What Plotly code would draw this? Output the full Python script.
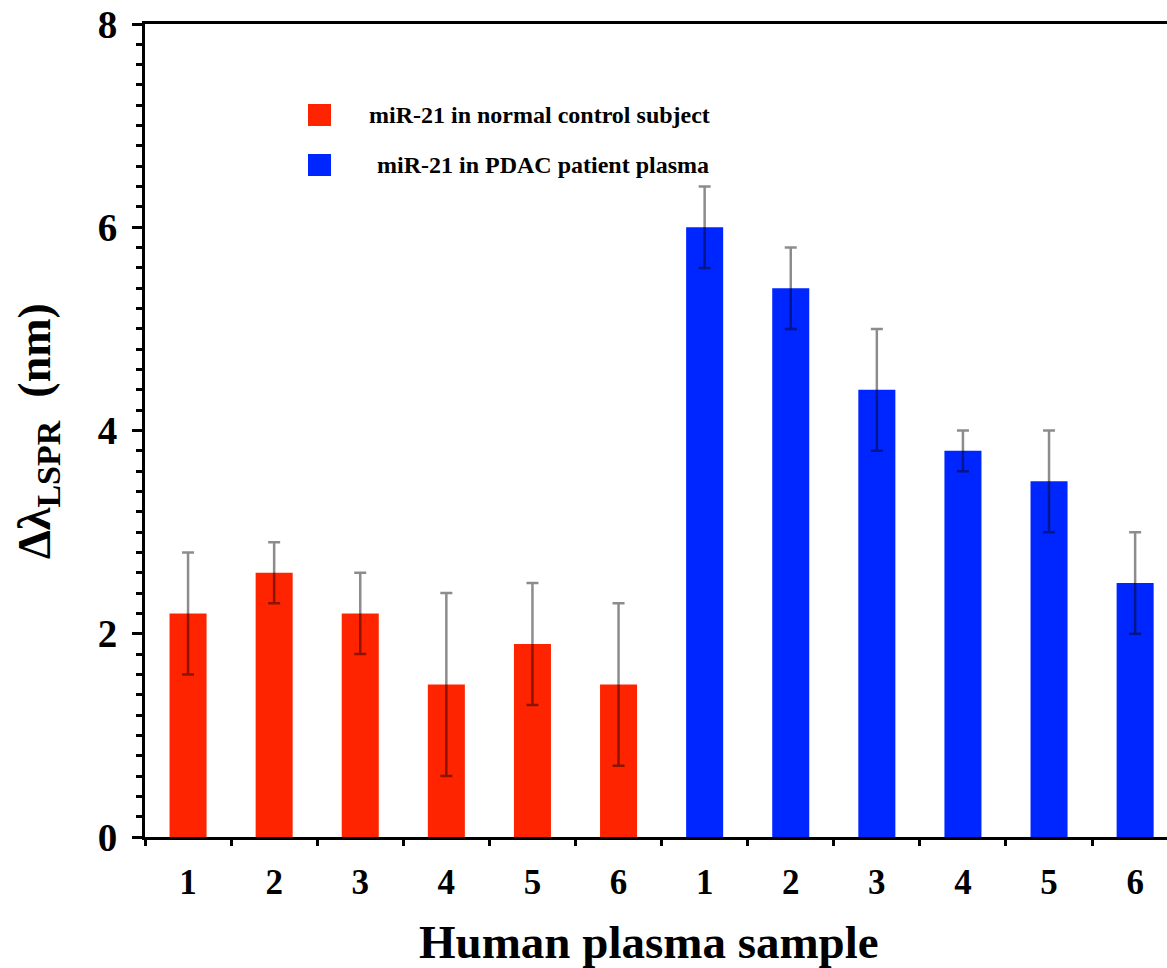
import plotly.graph_objects as go

# ---- data ----
sample_labels = ["1", "2", "3", "4", "5", "6"]
normal_values = [2.2, 2.6, 2.2, 1.5, 1.9, 1.5]
normal_errors = [0.6, 0.3, 0.4, 0.9, 0.6, 0.8]
pdac_values = [6.0, 5.4, 4.4, 3.8, 3.5, 2.5]
pdac_errors = [0.4, 0.4, 0.6, 0.2, 0.5, 0.5]
legend_names = ["miR-21 in normal control subject", "miR-21 in PDAC patient plasma"]

RED = "#ff2400"
BLUE = "#0026ff"
SERIF = "Liberation Serif"

n = len(sample_labels)
x_normal = list(range(n))
x_pdac = list(range(n, 2 * n))
all_labels = sample_labels + sample_labels

fig = go.Figure()
err_style = dict(type="data", visible=True, color="rgba(0,0,0,0.45)", thickness=2.5, width=6)
fig.add_trace(go.Bar(x=x_normal, y=normal_values, width=0.43, marker=dict(color=RED, line=dict(width=0)),
                     error_y=dict(array=normal_errors, **err_style), name=legend_names[0], showlegend=False))
fig.add_trace(go.Bar(x=x_pdac, y=pdac_values, width=0.43, marker=dict(color=BLUE, line=dict(width=0)),
                     error_y=dict(array=pdac_errors, **err_style), name=legend_names[1], showlegend=False))

W, H = 1167, 968
L, R, T, B = 145, 0, 24, 131
pw, ph = W - L - R, H - T - B

def px_x(px):
    return (px - L) / pw

def px_y(py):
    return (H - B - py) / ph

# manual legend
for i, (col, name, tx) in enumerate([(RED, legend_names[0], 367), (BLUE, legend_names[1], 375)]):
    cy = 115 + 50 * i
    fig.add_shape(type="rect", xref="paper", yref="paper",
                  x0=px_x(308), x1=px_x(331), y0=px_y(cy - 11), y1=px_y(cy + 11),
                  fillcolor=col, line=dict(width=0))
    fig.add_annotation(xref="paper", yref="paper", x=px_x(tx), y=px_y(cy), xanchor="left", yanchor="middle",
                       text=name, showarrow=False,
                       font=dict(family=SERIF, size=24, color="black", weight="bold"))

# axis titles
fig.add_annotation(xref="paper", yref="paper", x=px_x(649), y=px_y(942), xanchor="center", yanchor="middle",
                   text="Human plasma sample", showarrow=False,
                   font=dict(family=SERIF, size=47, color="black", weight="bold"))
fig.add_annotation(xref="paper", yref="paper", x=px_x(38), y=px_y(431), xanchor="center", yanchor="middle",
                   text="Δλ<sub><span style='font-size:34px'>LSPR</span></sub>  (nm)", textangle=-90,
                   showarrow=False,
                   font=dict(family=SERIF, size=46, color="black", weight="bold"))

fig.update_xaxes(range=[-0.5, 11.37], tickmode="array", tickvals=x_normal + x_pdac, ticktext=all_labels,
                 ticks="", showgrid=False, zeroline=False,
                 showline=True, linecolor="black", linewidth=3, mirror=True,
                 tickfont=dict(family=SERIF, size=35, color="black", weight="bold"),
                 ticklabelstandoff=12,
                 minor=dict(tickvals=[k - 0.5 for k in range(2 * n + 1)], ticks="outside",
                            ticklen=6, tickwidth=2.5, tickcolor="black", showgrid=False))
fig.update_yaxes(range=[0, 8], tickvals=[0, 2, 4, 6, 8], ticks="outside", ticklen=10, tickwidth=3,
                 tickcolor="black", showgrid=False, zeroline=False,
                 showline=True, linecolor="black", linewidth=3,
                 tickfont=dict(family=SERIF, size=39, color="black", weight="bold"),
                 ticklabelstandoff=7,
                 minor=dict(dtick=0.2, ticks="outside", ticklen=6, tickwidth=2.5, tickcolor="black",
                            showgrid=False))

fig.update_layout(width=W, height=H, margin=dict(l=L, r=R, t=T, b=B),
                  plot_bgcolor="white", paper_bgcolor="white", bargap=0.5)

fig.write_html("out.html")
